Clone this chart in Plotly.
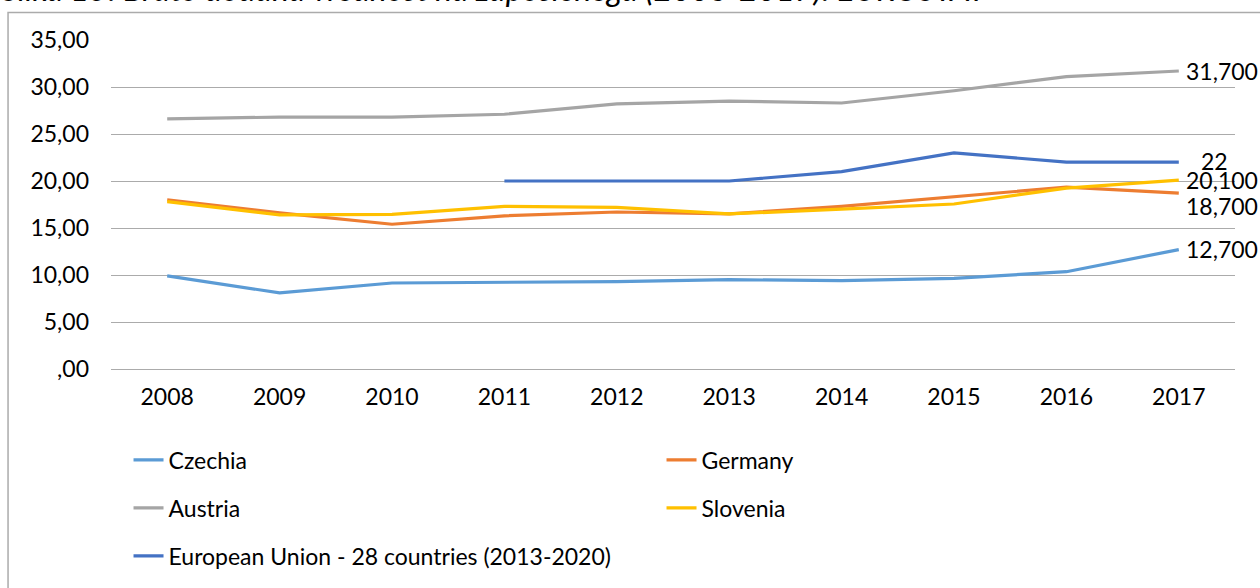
import plotly.graph_objects as go

years = ["2008", "2009", "2010", "2011", "2012", "2013", "2014", "2015", "2016", "2017"]
czechia = [9.9, 8.1, 9.15, 9.2, 9.3, 9.5, 9.4, 9.65, 10.35, 12.7]
germany = [18.0, 16.6, 15.4, 16.3, 16.7, 16.5, 17.3, 18.3, 19.35, 18.7]
austria = [26.6, 26.8, 26.8, 27.1, 28.2, 28.5, 28.3, 29.6, 31.1, 31.7]
slovenia = [17.8, 16.4, 16.45, 17.3, 17.2, 16.5, 17.0, 17.55, 19.25, 20.1]
eu_years = ["2011", "2012", "2013", "2014", "2015", "2016", "2017"]
eu = [20, 20, 20, 21, 23, 22, 22]

y_tick_values = [0, 5, 10, 15, 20, 25, 30, 35]
y_tick_labels = [",00", "5,00", "10,00", "15,00", "20,00", "25,00", "30,00", "35,00"]

caption = "Slika 15: Bruto dodana vrednost na zaposlenega (2008-2017): EUROSTAT"

FONT = "Lato, 'Open Sans', sans-serif"
FS = 23
GRID = "#ABABAB"

series = [
    ("Czechia", years, czechia, "#5B9BD5", "legend"),
    ("Germany", years, germany, "#ED7D31", "legend"),
    ("Austria", years, austria, "#A5A5A5", "legend2"),
    ("Slovenia", years, slovenia, "#FFC000", "legend2"),
    ("European Union - 28 countries (2013-2020)", eu_years, eu, "#4472C4", "legend3"),
]

fig = go.Figure()
for name, xs, ys, color, leg in series:
    fig.add_trace(go.Scatter(
        x=xs, y=ys, mode="lines", name=name,
        line=dict(color=color, width=3.2),
        legend=leg, hoverinfo="skip",
    ))


def fmt(v, decimals=True):
    return f"{v:.3f}".replace(".", ",") if decimals else f"{v:g}"


# end-of-line data labels (category index of the last year)
last_idx = years.index(years[-1])
eu_last_idx = years.index(eu_years[-1])
labels = [
    (last_idx, austria[-1], fmt(austria[-1]), "left", 5, 0),
    (eu_last_idx, eu[-1], fmt(eu[-1], False), "center", 36, 1),
    (last_idx, slovenia[-1], fmt(slovenia[-1]), "left", 5, 0),
    (last_idx, germany[-1], fmt(germany[-1]), "left", 5, -13),
    (last_idx, czechia[-1], fmt(czechia[-1]), "left", 5, 1),
]
for x, y, t, xa, xs, ys in labels:
    fig.add_annotation(x=x, y=y, xref="x", yref="y", text=t, showarrow=False, xanchor=xa,
                       yanchor="middle", xshift=xs, yshift=ys,
                       font=dict(family=FONT, size=FS, color="#000000"))

# cropped caption at top
fig.add_annotation(xref="paper", yref="paper", x=-0.0988, y=1.09, xanchor="left", yanchor="bottom",
                   text="<i>" + caption + "</i>", showarrow=False,
                   font=dict(family=FONT, size=32, color="#000000"))

# chart frame
fig.add_shape(type="rect", xref="paper", yref="paper", x0=-0.0916, x1=1.05, y0=-0.75, y1=1.0835,
              line=dict(color="#ABABAB", width=1.5), fillcolor="rgba(0,0,0,0)", layer="below")

leg_common = dict(orientation="h", xref="container", yref="container", xanchor="left", yanchor="middle",
                  x=0.102, font=dict(family=FONT, size=FS, color="#000000"),
                  entrywidth=488, entrywidthmode="pixels", bgcolor="rgba(0,0,0,0)", itemwidth=30)

fig.update_layout(
    width=1260, height=588,
    margin=dict(l=111, r=25, t=40, b=219, autoexpand=False),
    paper_bgcolor="white", plot_bgcolor="white",
    font=dict(family=FONT, size=FS, color="#000000"),
    showlegend=True,
    legend=dict(**leg_common, y=1 - 460 / 588),
    legend2=dict(**leg_common, y=1 - 508 / 588),
    legend3=dict(**leg_common, y=1 - 556 / 588),
    xaxis=dict(type="category", range=[-0.5, 9.5], showgrid=False, showline=False, zeroline=False,
               ticks="", ticklabelstandoff=12, tickfont=dict(family=FONT, size=FS, color="#000000")),
    yaxis=dict(range=[0, 35], tickvals=y_tick_values, ticktext=y_tick_labels, showgrid=True,
               gridcolor=GRID, gridwidth=1.3, zeroline=True, zerolinecolor=GRID, zerolinewidth=1.3,
               showline=False, ticks="", ticklabelstandoff=21,
               tickfont=dict(family=FONT, size=FS, color="#000000")),
)

fig.write_html("out.html", config={"displayModeBar": False},
               post_script="document.body.style.margin='0';document.body.style.overflow='hidden';")
